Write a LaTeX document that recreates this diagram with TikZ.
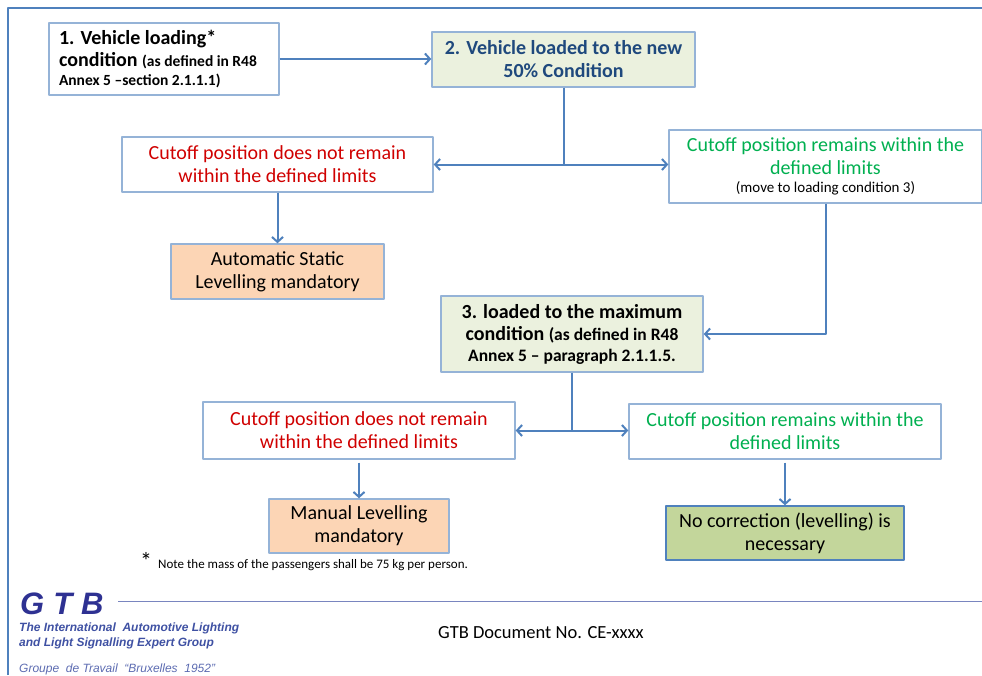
\documentclass[tikz,border=0pt]{standalone}
\usepackage{fontspec}
\setmainfont{Carlito}
\newfontfamily\arialfont{Liberation Sans}
\usetikzlibrary{arrows.meta}

\definecolor{frameblue}{HTML}{4F81BD}
\definecolor{boxline}{HTML}{95B3D7}
\definecolor{palegreen}{HTML}{EBF1DE}
\definecolor{peach}{HTML}{FCD5B5}
\definecolor{olive}{HTML}{C3D69B}
\definecolor{failred}{HTML}{D00000}
\definecolor{passgreen}{HTML}{00B050}
\definecolor{darkblue}{HTML}{1F497D}
\definecolor{gtbblue}{HTML}{2E3192}
\definecolor{gtbtext}{HTML}{3F51A3}

\newcommand\bodyfs{\fontsize{20}{23}\selectfont}
\newcommand\notefs{\fontsize{15.5}{20}\selectfont}
\newcommand\refnotefs{\fontsize{17.5}{20}\selectfont}

\begin{document}
\begin{tikzpicture}[
        x = 1pt, y = -1pt,
        line join=round,
        box/.style = {draw=boxline, line width=1.4pt, fill=white, inner sep=0pt, align=center, font=\bodyfs},
        condbox/.style = {box, fill=palegreen},
        endbox/.style = {box, fill=peach},
        link/.style = {draw=frameblue, line width=2pt},
        arr/.style = {link, -{Straight Barb[length=5pt,width=11pt,line width=2pt]}},
        twoarr/.style = {link, {Straight Barb[length=5pt,width=11pt,line width=2pt]}-{Straight Barb[length=5pt,width=11pt,line width=2pt]}}
    ]

    \useasboundingbox (0,0) rectangle (982,675);
    \draw[frameblue, line width=2pt] (8,675) -- (8,8) -- (982,8);

    % loading conditions
    \node[box, minimum width=230, minimum height=72, align=flush left, text width=210] (load1) at (164,59)
        {\textbf{1. Vehicle loading*}\\[-1pt]
         \textbf{condition} {\notefs\bfseries (as defined in R48}\\[-4pt]
         {\notefs\bfseries Annex 5 --section 2.1.1.1)}};
    \node[condbox, minimum width=263, minimum height=55, text=darkblue, font=\bodyfs\bfseries] (load2) at (563.5,59.5)
        {2. Vehicle loaded to the new\\50\% Condition};
    \node[condbox, minimum width=262, minimum height=76] (load3) at (572,334)
        {\textbf{3. loaded to the maximum}\\[-1pt]
         \textbf{condition} {\refnotefs\bfseries (as defined in R48}\\[-2pt]
         {\refnotefs\bfseries Annex 5 -- paragraph 2.1.1.5.}};

    % outcomes
    \node[box, minimum width=311, minimum height=55, text=failred] (fail1) at (277.5,164.5)
        {Cutoff position does not remain\\within the defined limits};
    \node[box, minimum width=313, minimum height=73, text=passgreen] (pass1) at (825.5,166.5)
        {Cutoff position remains within the\\defined limits\\[-5pt]
         {\fontsize{15}{18}\selectfont\color{black}(move to loading condition 3)}};
    \node[endbox, minimum width=213, minimum height=55] (auto) at (277.5,271.5)
        {Automatic Static\\Levelling mandatory};
    \node[box, minimum width=312, minimum height=57, text=failred] (fail2) at (359,430.5)
        {Cutoff position does not remain\\within the defined limits};
    \node[box, minimum width=312, minimum height=55, text=passgreen] (pass2) at (785,431.5)
        {Cutoff position remains within the\\defined limits};
    \node[endbox, minimum width=180, minimum height=54] (manual) at (359,526)
        {Manual Levelling\\mandatory};
    \node[box, fill=olive, draw=frameblue, minimum width=238, minimum height=54] (nocorr) at (785,533)
        {No correction (levelling) is\\necessary};

    % connectors
    \draw[arr] (load1.east) -- (load1.east -| load2.west);
    \draw[link] (load2.south) -- (load2.south |- fail1.east);
    \draw[twoarr] (fail1.east) -- (fail1.east -| pass1.west);
    \draw[arr] (fail1) -- (auto);
    \draw[arr] (pass1.south) |- (load3.east);
    \draw[link] (load3.south) -- (load3.south |- fail2.east);
    \draw[twoarr] (fail2.east) -- (fail2.east -| pass2.west);
    \draw[arr, shorten <=3pt] (fail2) -- (manual);
    \draw[arr, shorten <=3pt] (pass2) -- (nocorr);

    % footnote
    \node[font=\fontsize{24}{24}\selectfont] (star) at (146,561) {*};
    \node[anchor=west, inner sep=0pt, font=\fontsize{13}{15}\selectfont] (note) at (158,565)
        {Note the mass of the passengers shall be 75 kg per person.};

    % footer
    \node[anchor=west, inner sep=0pt, text=gtbblue, font=\arialfont\fontsize{31}{31}\selectfont\bfseries\itshape] (gtb) at (20,604)
        {G\hspace{9pt}T\hspace{9pt}B};
    \draw[draw=gtbtext!70, line width=1pt] (118,601) -- (982,601);
    \node[anchor=north west, inner sep=0pt, align=left, text=gtbtext, font=\arialfont\fontsize{12}{15}\selectfont\bfseries\itshape] (group) at (19,623)
        {The International\ \ Automotive\ Lighting\\and Light\ Signalling\ Expert\ Group};
    \node[anchor=west, inner sep=0pt, text=gtbtext!85, font=\arialfont\fontsize{12}{15}\selectfont\itshape] (groupe) at (19,669)
        {Groupe\ \ de Travail\ \ “Bruxelles\ \ 1952”};
    \node[anchor=west, inner sep=0pt, font=\fontsize{18.5}{20}\selectfont] (docno) at (438,633)
        {GTB Document No. CE-xxxx};
\end{tikzpicture}
\end{document}
